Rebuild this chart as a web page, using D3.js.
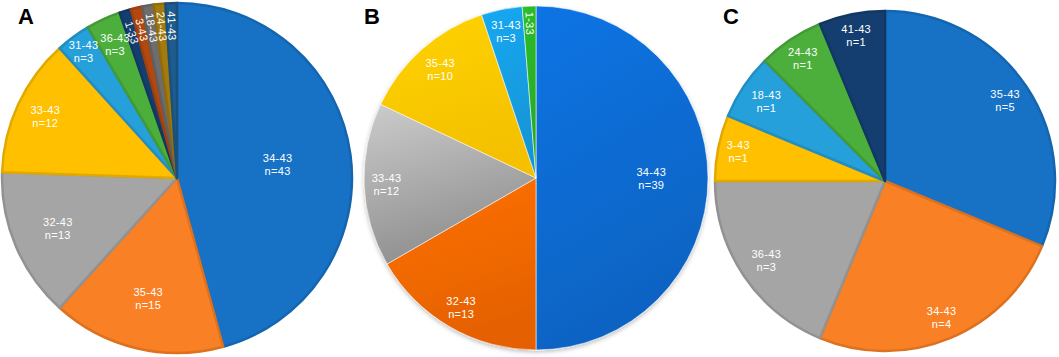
<!DOCTYPE html>
<html>
<head>
<meta charset="utf-8">
<script src="https://cdn.jsdelivr.net/npm/d3@7"></script>
<style>
  body { margin: 0; background: #fff; }
  text { font-family: "Liberation Sans", Arial, sans-serif; }
</style>
</head>
<body>
<div id="chart"></div>
<script>
// --------------------------------------
//  Data
// --------------------------------------

const pieALabels = ["34-43", "35-43", "32-43", "33-43", "31-43", "36-43", "1-33", "3-43", "18-43", "24-43", "41-43"];
const pieACounts = [43, 15, 13, 12, 3, 3, 1, 1, 1, 1, 1];

const pieBLabels = ["34-43", "32-43", "33-43", "35-43", "31-43", "1-33"];
const pieBCounts = [39, 13, 12, 10, 3, 1];

const pieCLabels = ["35-43", "34-43", "36-43", "3-43", "18-43", "24-43", "41-43"];
const pieCCounts = [5, 4, 3, 1, 1, 1, 1];

const panelNames = ["A", "B", "C"];

// --------------------------------------
//  Canvas and styles
// --------------------------------------

const width = 1059;
const height = 357;

const svg = d3.select("#chart")
  .append("svg")
    .attr("width", width)
    .attr("height", height);

const flatColors = ["#1772c6", "#f98024", "#a5a5a5", "#ffc000", "#25a0db", "#4caf3c",
                    "#143e70", "#b2480f", "#6d6d6d", "#a57a0c", "#1d5c8c"];
const glossColors = ["#0a6ed8", "#ff6c05", "#a8a8a8", "#ffc800", "#13a0e6", "#2bb52b"];
const glossSpread = [[0.15, 0.3], [0.15, 0.3], [0.55, 0.45], [0.15, 0.12], [0.15, 0.2], [0.15, 0.2]];

// label distance from centre, as share of radius (Excel "best fit" look)
const panels = [
  {labels: pieALabels, counts: pieACounts, cx: 177, cy: 178, r: 175, gloss: false,
   labelR: [0.58, 0.71, 0.74, 0.83, 0.9, 0.84, 0.87, 0.87, 0.87, 0.87, 0.87],
   tag: [18, 24]},
  {labels: pieBLabels, counts: pieBCounts, cx: 536, cy: 178, r: 172, gloss: true,
   labelR: [0.67, 0.87, 0.87, 0.84, 0.87, 0.9],
   tag: [364, 24]},
  {labels: pieCLabels, counts: pieCCounts, cx: 885, cy: 181, r: 170, gloss: false,
   labelR: [0.85, 0.87, 0.84, 0.88, 0.84, 0.87, 0.87],
   tag: [723, 24]}
];

const defs = svg.append("defs");
glossColors.forEach((c, i) => {
  const g = defs.append("linearGradient")
      .attr("id", "gloss" + i)
      .attr("x1", 0).attr("y1", 0).attr("x2", 0.3).attr("y2", 1);
  g.append("stop").attr("offset", "0%").attr("stop-color", d3.color(c).brighter(glossSpread[i][0]));
  g.append("stop").attr("offset", "100%").attr("stop-color", d3.color(c).darker(glossSpread[i][1]));
});

const shadow = defs.append("filter").attr("id", "shadow")
    .attr("x", "-10%").attr("y", "-10%").attr("width", "120%").attr("height", "120%");
shadow.append("feDropShadow")
    .attr("dx", 0).attr("dy", 2).attr("stdDeviation", 2)
    .attr("flood-color", "#000").attr("flood-opacity", 0.25);

// --------------------------------------
//  Pies
// --------------------------------------

panels.forEach((p, k) => {

  const data = p.labels.map((l, i) => ({label: l, n: p.counts[i], i: i}));

  const pie = d3.pie()
      .sort(null)
      .value(d => d.n);

  const arc = d3.arc()
      .innerRadius(0)
      .outerRadius(p.r);

  const arcs = pie(data);

  const g = svg.append("g")
      .attr("transform", `translate(${p.cx}, ${p.cy})`);

  const slices = g.append("g")
      .attr("filter", p.gloss ? "url(#shadow)" : null);

  slices.selectAll("path")
    .data(arcs)
    .join("path")
      .attr("d", arc)
      .attr("fill", d => p.gloss ? `url(#gloss${d.data.i})` : flatColors[d.data.i])
      .attr("stroke", d => p.gloss ? "rgba(255,255,255,0.55)" : d3.color(flatColors[d.data.i]).darker(0.35))
      .attr("stroke-width", p.gloss ? 1 : 2.5)
      .attr("stroke-linejoin", "round");

  g.selectAll(".lab")
    .data(arcs)
    .join("g")
      .attr("class", "lab")
      .each(function(d) {
        const a = (d.startAngle + d.endAngle) / 2;
        const rr = p.r * p.labelR[d.data.i];
        const x = Math.sin(a) * rr;
        const y = -Math.cos(a) * rr;
        const small = (d.endAngle - d.startAngle) < 0.17;
        const t = d3.select(this).append("text")
            .attr("fill", "#fff")
            .attr("font-size", 11)
            .attr("letter-spacing", 0.3)
            .attr("text-anchor", "middle");
        if (small) {
          let deg = a * 180 / Math.PI;
          if (deg > 180) deg -= 360;
          t.attr("transform", `translate(${x}, ${y}) rotate(${90 + deg})`)
            .attr("dy", "0.35em")
            .text(d.data.label);
        } else {
          t.attr("transform", `translate(${x}, ${y})`);
          t.append("tspan").attr("x", 0).attr("y", -2.5).text(d.data.label);
          t.append("tspan").attr("x", 0).attr("y", 10.5).text("n=" + d.data.n);
        }
      });

  svg.append("text")
      .attr("x", p.tag[0])
      .attr("y", p.tag[1])
      .attr("font-size", 22)
      .attr("font-weight", "bold")
      .attr("fill", "#000")
      .text(panelNames[k]);
});
</script>
</body>
</html>
